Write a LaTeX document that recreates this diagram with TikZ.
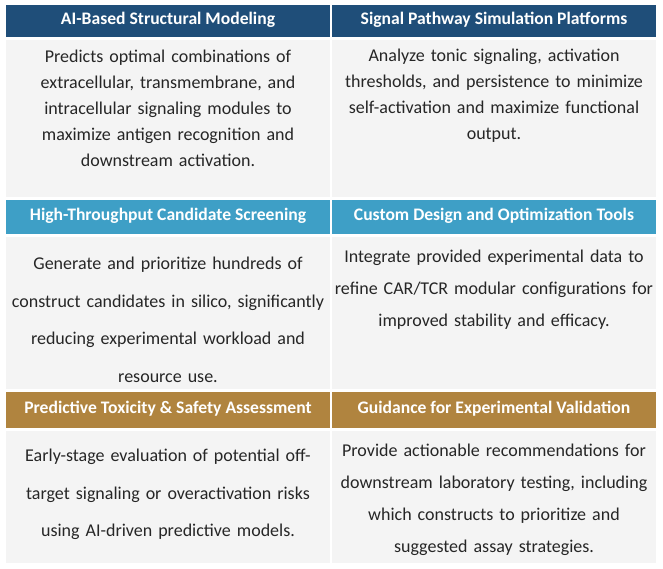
\documentclass[tikz,border=0pt]{standalone}
\usepackage{fontspec}
\setmainfont{Carlito}
\definecolor{hA}{HTML}{1F4E79}
\definecolor{hB}{HTML}{3E9FC6}
\definecolor{hC}{HTML}{B0843F}
\definecolor{bg}{HTML}{F4F4F4}
\begin{document}
\begin{tikzpicture}[x=1pt,y=-1pt,
 hd/.style={text=white,font=\bfseries\fontsize{17.6}{20}\selectfont,anchor=center},
 bd/.style={text=black!85,align=center,text width=320pt,anchor=center},
 cell/.style={fill=bg,draw=none}]
\useasboundingbox (0,0) rectangle (663,569);
\fill[white] (0,0) rectangle (663,569);
% headers
\fill[hA] (6,5) rectangle (330,37); \fill[hA] (332,5) rectangle (656,37);
\fill[hB] (6,200) rectangle (330,234); \fill[hB] (332,200) rectangle (656,234);
\fill[hC] (6,392) rectangle (330,428); \fill[hC] (332,392) rectangle (656,428);
% bodies
\fill[cell] (6,40) rectangle (330,197); \fill[cell] (332,40) rectangle (656,197);
\fill[cell] (6,237) rectangle (330,389); \fill[cell] (332,237) rectangle (656,389);
\fill[cell] (6,431) rectangle (330,563); \fill[cell] (332,431) rectangle (656,563);
\node[hd] (h1) at (168,20) {AI-Based Structural Modeling};
\node[hd] (h2) at (494,20) {Signal Pathway Simulation Platforms};
\node[hd] (h3) at (168,216) {High-Throughput Candidate Screening};
\node[hd] (h4) at (494,216) {Custom Design and Optimization Tools};
\node[hd] (h5) at (168,409) {Predictive Toxicity \& Safety Assessment};
\node[hd] (h6) at (494,409) {Guidance for Experimental Validation};
\node[bd,font=\fontsize{18}{26}\selectfont] (b1) at (168,108.5) {Predicts optimal combinations of\\extracellular, transmembrane, and\\intracellular signaling modules to\\maximize antigen recognition and\\downstream activation.};
\node[bd,font=\fontsize{18}{26}\selectfont] (b2) at (494,95.5) {Analyze tonic signaling, activation\\thresholds, and persistence to minimize\\self-activation and maximize functional\\output.};
\node[bd,font=\fontsize{18}{37.5}\selectfont] (b3) at (168,320) {Generate and prioritize hundreds of\\construct candidates in silico, significantly\\reducing experimental workload and\\resource use.};
\node[bd,font=\fontsize{18}{32}\selectfont] (b4) at (494,290) {Integrate provided experimental data to\\refine CAR/TCR modular configurations for\\improved stability and efficacy.};
\node[bd,font=\fontsize{18}{37.5}\selectfont] (b5) at (168,494.5) {Early-stage evaluation of potential off-\\target signaling or overactivation risks\\using AI-driven predictive models.};
\node[bd,font=\fontsize{18}{32}\selectfont] (b6) at (494,499.5) {Provide actionable recommendations for\\downstream laboratory testing, including\\which constructs to prioritize and\\suggested assay strategies.};
\end{tikzpicture}
\end{document}
